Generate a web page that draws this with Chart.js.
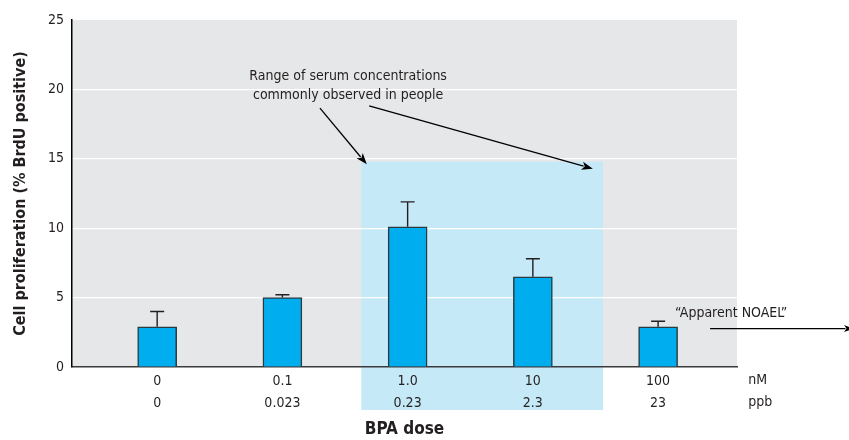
<!DOCTYPE html>
<html lang="en">
<head>
  <meta charset="UTF-8">
  <title>BPA dose – cell proliferation</title>
  <style>
    body { margin: 0; background: #fff; }
    .wrap { width: 849px; height: 440px; position: relative; }
  </style>
</head>
<body>
  <div class="wrap"><canvas id="grafico"></canvas></div>

  <script src="https://cdn.jsdelivr.net/npm/chart.js"></script>
  <script>
    // Dados
    const doseNM = ['0', '0.1', '1.0', '10', '100'];
    const dosePPB = ['0', '0.023', '0.23', '2.3', '23'];
    const proliferacao = [2.9, 5.0, 10.1, 6.5, 2.9];
    const erroTopo = [4.0, 5.2, 11.9, 7.8, 3.3];
    const yTicks = [0, 5, 10, 15, 20, 25];

    // faixa de concentração sérica (em unidades do eixo)
    const faixaX = [1.63, 3.56];
    const faixaTopo = 14.8;

    const FONT = '"Liberation Sans Narrow", "DejaVu Sans Condensed", "Arial Narrow", sans-serif';
    const TEXT = '#231f20';

    function seta(ctx, x1, y1, x2, y2, tam) {
      const ang = Math.atan2(y2 - y1, x2 - x1);
      ctx.beginPath();
      ctx.moveTo(x1, y1);
      ctx.lineTo(x2 - Math.cos(ang) * tam * 0.8, y2 - Math.sin(ang) * tam * 0.8);
      ctx.stroke();
      ctx.beginPath();
      ctx.moveTo(x2, y2);
      ctx.lineTo(x2 - tam * Math.cos(ang - 0.35), y2 - tam * Math.sin(ang - 0.35));
      ctx.lineTo(x2 - tam * 0.7 * Math.cos(ang), y2 - tam * 0.7 * Math.sin(ang));
      ctx.lineTo(x2 - tam * Math.cos(ang + 0.35), y2 - tam * Math.sin(ang + 0.35));
      ctx.closePath();
      ctx.fill();
    }

    // fundo cinza + faixa azul clara
    const fundo = {
      id: 'fundo',
      beforeDraw(chart) {
        const { ctx, chartArea: a, scales: { x, y } } = chart;
        ctx.save();
        ctx.fillStyle = '#e6e7e8';
        ctx.fillRect(a.left, a.top, a.right - a.left, a.bottom - a.top);
        ctx.fillStyle = '#c6e9f8';
        const x1 = x.getPixelForValue(faixaX[0]);
        const x2 = x.getPixelForValue(faixaX[1]);
        const yt = y.getPixelForValue(faixaTopo);
        ctx.fillRect(x1, yt, x2 - x1, a.bottom + 43 - yt);
        ctx.restore();
      }
    };

    // barras de erro, anotações e rótulos nM / ppb
    const extras = {
      id: 'extras',
      afterDatasetsDraw(chart) {
        const { ctx, scales: { x, y } } = chart;
        const meta = chart.getDatasetMeta(0);
        ctx.save();
        ctx.strokeStyle = '#231f20';
        ctx.lineWidth = 1.4;
        meta.data.forEach((bar, i) => {
          const yb = y.getPixelForValue(proliferacao[i]);
          const ye = y.getPixelForValue(erroTopo[i]);
          ctx.beginPath();
          ctx.moveTo(bar.x, yb);
          ctx.lineTo(bar.x, ye);
          ctx.moveTo(bar.x - 7, ye);
          ctx.lineTo(bar.x + 7, ye);
          ctx.stroke();
        });

        ctx.fillStyle = TEXT;
        ctx.font = '14px ' + FONT;
        ctx.textAlign = 'center';
        ctx.textBaseline = 'middle';
        ctx.fillText('Range of serum concentrations', x.getPixelForValue(1.525), y.getPixelForValue(20.96));
        ctx.fillText('commonly observed in people', x.getPixelForValue(1.525), y.getPixelForValue(19.59));
        ctx.fillText('\u201cApparent NOAEL\u201d', x.getPixelForValue(4.583), y.getPixelForValue(3.87));

        ctx.fillStyle = '#000';
        ctx.strokeStyle = '#000';
        ctx.lineWidth = 1.3;
        seta(ctx, x.getPixelForValue(1.30), y.getPixelForValue(18.65), x.getPixelForValue(1.674), y.getPixelForValue(14.6), 12);
        seta(ctx, x.getPixelForValue(1.693), y.getPixelForValue(18.82), x.getPixelForValue(3.479), y.getPixelForValue(14.28), 12);
        const yn = y.getPixelForValue(2.77);
        seta(ctx, x.getPixelForValue(4.415), yn, x.getPixelForValue(5.56), yn, 10);

        ctx.fillStyle = TEXT;
        ctx.textAlign = 'left';
        ctx.fillText('nM', x.getPixelForValue(4.72), y.bottom + 13);
        ctx.fillText('ppb', x.getPixelForValue(4.72), y.bottom + 35);
        ctx.restore();
      }
    };

    const ctx = document.getElementById('grafico').getContext('2d');
    new Chart(ctx, {
      type: 'bar',
      data: {
        datasets: [{
          data: proliferacao.map((v, i) => ({ x: i, y: v })),
          backgroundColor: '#00aeef',
          borderColor: '#2b3a40',
          borderWidth: 1.5,
          barThickness: 39
        }]
      },
      options: {
        responsive: true,
        maintainAspectRatio: false,
        animation: false,
        layout: { padding: { left: 0, right: 112, top: 20, bottom: 0 } },
        plugins: { legend: { display: false }, tooltip: { enabled: false } },
        scales: {
          x: {
            type: 'linear',
            offset: false,
            min: -0.68,
            max: 4.63,
            grid: { display: false },
            border: { color: '#3a3a3a', width: 1.5 },
            afterBuildTicks(scale) { scale.ticks = doseNM.map((_, i) => ({ value: i })); },
            afterFit(scale) { scale.height = 73; },
            ticks: {
              color: TEXT,
              padding: -4,
              font: { family: FONT, size: 14, lineHeight: 1.55 },
              maxRotation: 0,
              callback: (v) => [doseNM[v], dosePPB[v]]
            },
            title: {
              display: true,
              text: 'BPA dose',
              color: TEXT,
              padding: 0,
              font: { family: FONT, size: 17, weight: 'bold' }
            }
          },
          y: {
            min: 0,
            max: 25,
            afterBuildTicks(scale) { scale.ticks = yTicks.map(v => ({ value: v })); },
            afterFit(scale) { scale.width = 72; },
            grid: {
              drawTicks: false,
              color: (c) => (c.tick.value > 0 && c.tick.value < 25) ? '#ffffff' : 'rgba(0,0,0,0)',
              lineWidth: 1.2
            },
            border: { color: '#000', width: 1.5 },
            ticks: {
              color: TEXT,
              padding: 8,
              font: { family: FONT, size: 14 }
            },
            title: {
              display: true,
              text: 'Cell proliferation (% BrdU positive)',
              color: TEXT,
              padding: { top: 11, bottom: 0 },
              font: { family: FONT, size: 16, weight: 'bold' }
            }
          }
        }
      },
      plugins: [fundo, extras]
    });
  </script>
</body>
</html>
